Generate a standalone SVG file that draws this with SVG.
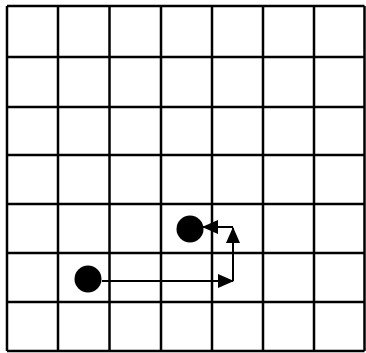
<svg xmlns="http://www.w3.org/2000/svg" width="366" height="353" viewBox="0 0 366 353">
<defs>
<style>
.grid line{stroke:#000;stroke-width:2.5}
.conn{stroke:#000;stroke-width:2;fill:none}
.dot{fill:#000}
</style>
<marker id="ah" markerWidth="16" markerHeight="14" refX="15" refY="7" orient="auto" markerUnits="userSpaceOnUse">
<path d="M0,0 L16,7 L0,14 Z" fill="#000"/>
</marker>
</defs>
<rect width="366" height="353" fill="#fff"/>
<g id="grid" class="grid">
<line x1="7" y1="6" x2="7" y2="351"/>
<line x1="58" y1="6" x2="58" y2="351"/>
<line x1="109.5" y1="6" x2="109.5" y2="351"/>
<line x1="161" y1="6" x2="161" y2="351"/>
<line x1="212" y1="6" x2="212" y2="351"/>
<line x1="263" y1="6" x2="263" y2="351"/>
<line x1="314" y1="6" x2="314" y2="351"/>
<line x1="364.5" y1="6" x2="364.5" y2="351"/>
<line x1="7" y1="6" x2="364.5" y2="6"/>
<line x1="7" y1="57" x2="364.5" y2="57"/>
<line x1="7" y1="107" x2="364.5" y2="107"/>
<line x1="7" y1="155" x2="364.5" y2="155"/>
<line x1="7" y1="204" x2="364.5" y2="204"/>
<line x1="7" y1="253" x2="364.5" y2="253"/>
<line x1="7" y1="302" x2="364.5" y2="302"/>
<line x1="7" y1="351" x2="364.5" y2="351"/>
</g>
<g id="start"><circle class="dot" cx="88" cy="279" r="13.5"/></g>
<g id="end"><circle class="dot" cx="190" cy="229" r="13.5"/></g>
<g id="connectors">
<line class="conn" x1="102" y1="281" x2="233" y2="281" marker-end="url(#ah)"/>
<line class="conn" x1="233" y1="281" x2="233" y2="228" marker-end="url(#ah)"/>
<polyline class="conn" points="233,227 203,227" marker-end="url(#ah)"/>
</g>
</svg>
